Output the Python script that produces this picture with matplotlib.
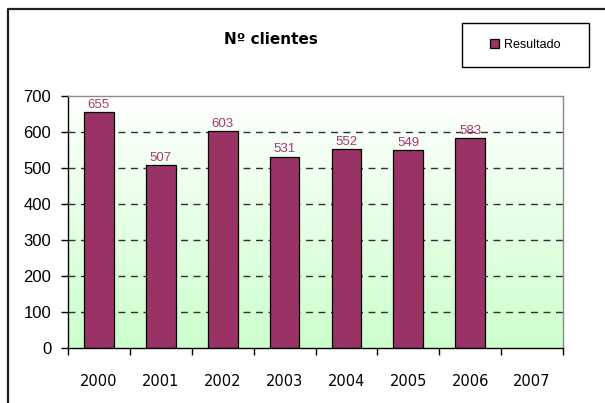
import numpy as np
import matplotlib
matplotlib.use("Agg")
import matplotlib.pyplot as plt
from matplotlib.patches import Rectangle
from matplotlib.lines import Line2D
from matplotlib.colors import LinearSegmentedColormap

years = ["2000", "2001", "2002", "2003", "2004", "2005", "2006", "2007"]
resultado = [655, 507, 603, 531, 552, 549, 583]
y_ticks = [0, 100, 200, 300, 400, 500, 600, 700]
title = "Nº clientes"
series_name = "Resultado"

bar_color = "#993366"
label_color = "#a8386e"

W, H = 605, 403
fig = plt.figure(figsize=(W / 100, H / 100), dpi=100)
fig.patch.set_facecolor("white")

# plot area in pixel terms
left, right, top, bottom = 68, 563, 96, 348
ax = fig.add_axes([left / W, 1 - bottom / H, (right - left) / W, (bottom - top) / H])

n = len(years)
ax.set_xlim(-0.5, n - 0.5)
ax.set_ylim(0, 700)

# vertical gradient background: white at top, pale green at bottom
cmap = LinearSegmentedColormap.from_list("bg", ["#ccffcc", "#ffffff"])
grad = np.linspace(0, 1, 256).reshape(-1, 1)
ax.imshow(grad, cmap=cmap, aspect="auto", origin="lower",
          extent=(-0.5, n - 0.5, 0, 700), zorder=0)

# dashed horizontal grid
for v in y_ticks[1:-1]:
    ax.axhline(v, color="#303030", lw=1.0, linestyle=(0, (5, 4)), zorder=1)

x = np.arange(len(resultado))
bars = ax.bar(x, resultado, width=0.48, color=bar_color, edgecolor="black",
              linewidth=0.9, zorder=3, label=series_name)
for xi, v in zip(x, resultado):
    ax.annotate(f"{v}", (xi, v), xytext=(0, 1), textcoords="offset points",
                ha="center", va="bottom", fontsize=9.5, color=label_color,
                family="Liberation Sans", zorder=4)

# spines
ax.spines["left"].set_color("black")
ax.spines["bottom"].set_color("black")
ax.spines["top"].set_color("#8c8c8c")
ax.spines["right"].set_color("#8c8c8c")
for s in ax.spines.values():
    s.set_linewidth(1.0)
    s.set_zorder(5)

ax.set_yticks(y_ticks)
ax.set_yticklabels([str(t) for t in y_ticks], family="Liberation Sans", fontsize=12)
ax.tick_params(axis="y", direction="out", length=5, width=1, pad=7, color="black")

ax.set_xticks(np.arange(n))
ax.set_xticklabels(years, family="DejaVu Sans", fontsize=10.5)
ax.tick_params(axis="x", which="major", length=0, pad=19)
ax.set_xticks(np.arange(-0.5, n, 1.0), minor=True)
ax.tick_params(axis="x", which="minor", direction="out", length=5, width=1, color="black")

# title
fig.text(271 / W, 1 - 39 / H, title, ha="center", va="center",
         fontsize=11, fontweight="bold", family="DejaVu Sans")

# legend box
lx0, ly0, lx1, ly1 = 462, 23, 589, 67
fig.add_artist(Rectangle((lx0 / W, 1 - ly1 / H), (lx1 - lx0) / W, (ly1 - ly0) / H,
                         transform=fig.transFigure, facecolor="white",
                         edgecolor="black", linewidth=1.0))
fig.legend(handles=[bars], labels=[series_name], loc="center",
           bbox_to_anchor=(((lx0 + lx1) / 2) / W, 1 - ((ly0 + ly1) / 2) / H),
           frameon=False, handlelength=0.7, handleheight=0.7,
           handletextpad=0.4, prop={"family": "Liberation Sans", "size": 9})

# outer chart frame
fig.add_artist(Line2D([8 / W, 8 / W, 1.0], [0.0, 1 - 9 / H, 1 - 9 / H],
                      transform=fig.transFigure, color="#202020", lw=1.6))

fig.savefig("out.png", dpi=100)
